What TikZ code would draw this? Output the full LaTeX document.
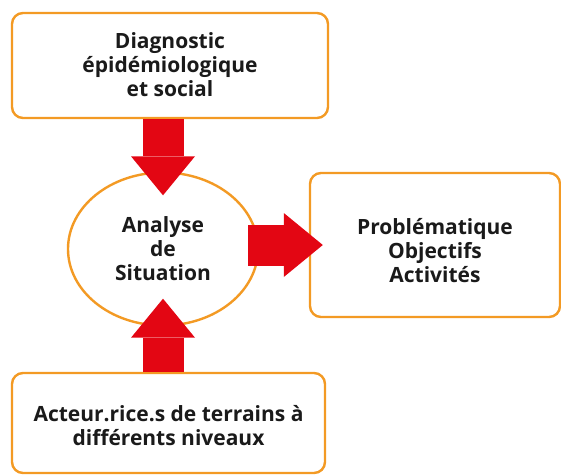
\documentclass[tikz,border=0pt]{standalone}
\usepackage{fontspec}
\setmainfont{Open Sans}
\usepackage{tikz}
\usetikzlibrary{arrows.meta,shapes,positioning,backgrounds}

\definecolor{boxorange}{HTML}{F39A24}
\definecolor{arrowred}{HTML}{E30613}
\definecolor{textgray}{HTML}{1A1A1A}

\begin{document}
\begin{tikzpicture}[
      x=1pt, y=1pt,%
      font=\fontsize{21}{24}\selectfont\bfseries,%
      every node/.style={text=textgray, align=center},%
      roundbox/.style={draw=boxorange, line width=2.4pt, rounded corners=11pt, fill=white},%
      situation/.style={ellipse, draw=boxorange, line width=2.4pt, fill=white, inner sep=0pt},%
      bigarrow/.style={draw=arrowred, line width=41pt,
        -{Triangle[length=39pt, width=64pt, line width=0pt]}}%
    ]
    \useasboundingbox (0,0) rectangle (561,475);

    %% Boxes and center ellipse
    \node[roundbox, minimum width=316pt, minimum height=105pt,
          text height=61pt, text depth=0pt] (diag) at (170,409.5)
      {Diagnostic\\ épidémiologique\\ et social};
    \node[situation, minimum width=190pt, minimum height=153pt] (ana) at (163,226)
      {Analyse\\ de\\ Situation};
    \node[roundbox, minimum width=250pt, minimum height=144pt,
          text height=74pt, text depth=0pt] (prob) at (435,230)
      {Problématique\\ Objectifs\\ Activités};
    \node[roundbox, minimum width=313pt, minimum height=100pt,
          text height=44pt, text depth=0pt] (act) at (168.5,52)
      {Acteur.rice.s de terrains à\\ différents niveaux};

    %% Block arrows
    \draw[bigarrow, shorten >=-24pt] (ana.north |- diag.south) -- (ana.north);
    \draw[bigarrow, shorten >=-28pt] (ana.south |- act.north) -- (ana.south);
    \draw[bigarrow, shorten <=-11pt, shorten >=-14pt] (ana.east |- prob.west) -- (prob.west);
  \end{tikzpicture}
\end{document}
